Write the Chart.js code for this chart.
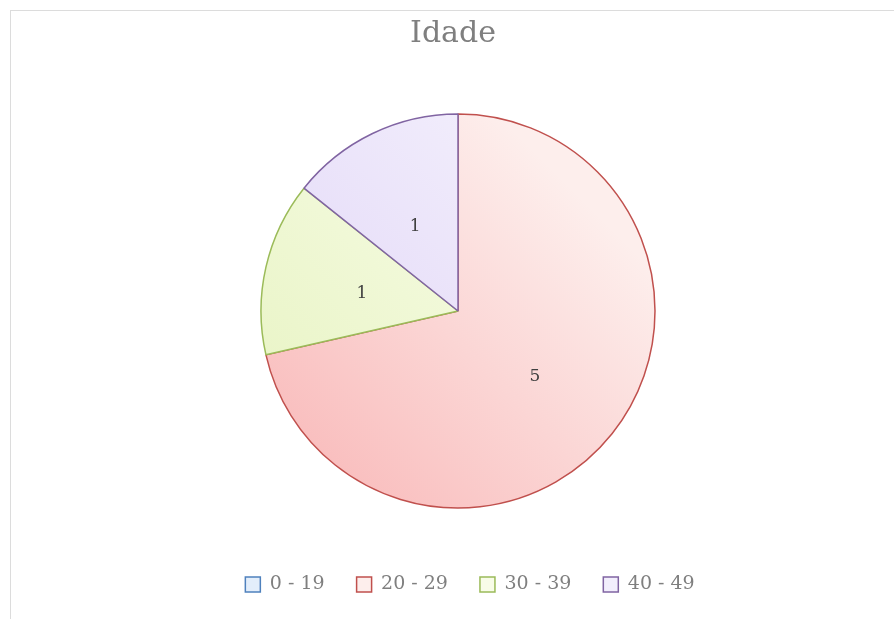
<!DOCTYPE html>
<html lang="pt">
<head>
    <meta charset="UTF-8">
    <title>Idade</title>
    <script src="https://cdn.jsdelivr.net/npm/chart.js"></script>
    <style>
        body { margin: 0; background: #fff; }
        #box {
            position: absolute; left: 10px; top: 10px;
            width: 890px; height: 615px;
            border: 1px solid #dcdcdc; box-sizing: border-box;
        }
    </style>
</head>
<body>
    <div id="box"><canvas id="myChart"></canvas></div>

    <script>
        const faixas = ['0 - 19', '20 - 29', '30 - 39', '40 - 49'];
        const contagem = [0, 5, 1, 1];

        // light fill, dark fill (gradient ends), border
        const claro = ['#e3eefb', '#fdeeec', '#f8fce8', '#f2eefc'];
        const escuro = ['#b9d2f0', '#f9bcbc', '#e8f4c4', '#e0d4f6'];
        const bordas = ['#4f81bd', '#c0504d', '#9bbb59', '#8064a2'];
        const raio = 197;

        const rotulos = {
            id: 'rotulos',
            afterLayout(chart) {
                // legend and title sit a bit off-centre in the original
                chart.legend.left += 12;
                chart.legend.right += 12;
                chart.titleBlock.left -= 5;
                chart.titleBlock.right -= 5;
            },
            afterDatasetsDraw(chart) {
                const ctx = chart.ctx;
                const meta = chart.getDatasetMeta(0);
                ctx.save();
                ctx.font = '17px "DejaVu Serif", serif';
                ctx.fillStyle = '#404040';
                ctx.textAlign = 'center';
                ctx.textBaseline = 'middle';
                meta.data.forEach((arc, i) => {
                    if (!contagem[i]) return;
                    const p = arc.getCenterPoint();
                    ctx.fillText(contagem[i], p.x, p.y + 4);
                });
                ctx.restore();
            }
        };

        function preenchimento(context) {
            const chart = context.chart;
            const area = chart.chartArea;
            if (!area) return claro[context.dataIndex];
            const cx = (area.left + area.right) / 2;
            const cy = (area.top + area.bottom) / 2;
            const r = raio;
            const g = chart.ctx.createLinearGradient(cx - r * 0.8, cy + r * 0.8, cx + r * 0.6, cy - r * 0.6);
            g.addColorStop(0, escuro[context.dataIndex]);
            g.addColorStop(1, claro[context.dataIndex]);
            return g;
        }

        const ctx = document.getElementById('myChart').getContext('2d');
        new Chart(ctx, {
            type: 'pie',
            data: {
                labels: faixas,
                datasets: [{
                    data: contagem,
                    backgroundColor: preenchimento,
                    borderColor: bordas,
                    borderWidth: 1.5,
                    radius: raio
                }]
            },
            options: {
                responsive: true,
                maintainAspectRatio: false,
                animation: false,
                layout: { padding: { left: 6, right: 0, top: 0, bottom: 20 } },
                plugins: {
                    title: {
                        display: true,
                        text: 'Idade',
                        color: '#7f7f7f',
                        font: { family: '"DejaVu Serif", serif', size: 30, weight: 'normal' },
                        padding: { top: 5, bottom: 27 }
                    },
                    legend: {
                        position: 'bottom',
                        labels: {
                            color: '#7f7f7f',
                            font: { family: '"DejaVu Serif", serif', size: 19 },
                            boxWidth: 15,
                            boxHeight: 15,
                            padding: 32,
                            generateLabels(chart) {
                                return faixas.map((f, i) => ({
                                    text: f,
                                    fillStyle: claro[i],
                                    strokeStyle: bordas[i],
                                    lineWidth: 1.5,
                                    fontColor: '#7f7f7f',
                                    index: i
                                }));
                            }
                        }
                    },
                    tooltip: { enabled: false }
                }
            },
            plugins: [rotulos]
        });
    </script>
</body>
</html>
